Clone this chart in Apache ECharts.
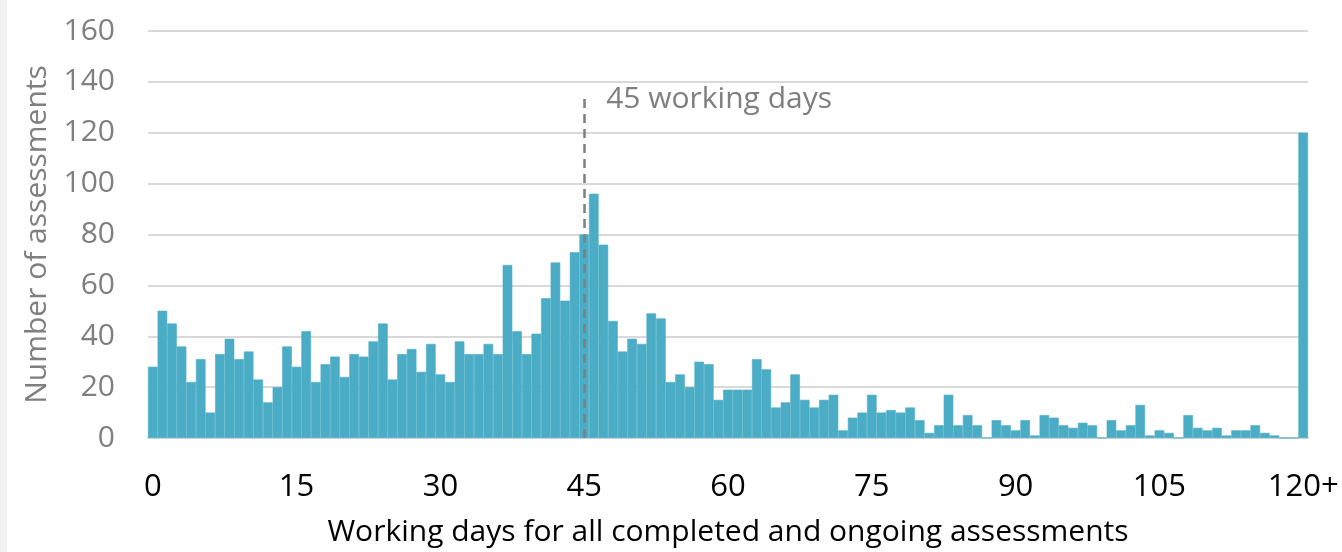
<!DOCTYPE html>
<html>
<head>
<meta charset="utf-8">
<script src="https://cdn.jsdelivr.net/npm/echarts@6/dist/echarts.min.js"></script>
<style>
html,body{margin:0;padding:0;background:#fff;}
#chart{width:1342px;height:552px;}
</style>
</head>
<body>
<div id="chart"></div>
<script>
// Data
const lastLabel = '120+';
const categories = [];
for (let d = 0; d < 120; d++) categories.push(String(d));
categories.push(lastLabel);

const counts = [
  28,50,45,36,22,31,10,33,39,31,
  34,23,14,20,36,28,42,22,29,32,
  24,33,32,38,45,23,33,35,26,37,
  25,22,38,33,33,37,33,68,42,33,
  41,55,69,54,73,80,96,76,46,34,
  39,37,49,47,22,25,20,30,29,15,
  19,19,19,31,27,12,14,25,15,12,
  15,17,3,8,10,17,10,11,10,12,
  7,2,5,17,5,9,5,0,7,5,
  3,7,1,9,8,5,4,6,5,0,
  7,3,5,13,1,3,2,0,9,4,
  3,4,1,3,3,5,2,1,0,0,
  120
];

const yTicks = [0,20,40,60,80,100,120,140,160];
const refDay = '45';
const refLineTop = 134;
const refLabelValue = 133;
const refLabel = '45 working days';
const xTitle = 'Working days for all completed and ongoing assessments';
const yTitle = 'Number of assessments';

const FONT = '"Open Sans", "Noto Sans", sans-serif';
const chart = echarts.init(document.getElementById('chart'));
chart.setOption({
  animation: false,
  backgroundColor: '#ffffff',
  graphic: [{
    type: 'rect', left: 0, top: 0, shape: {width: 7, height: 552},
    style: {fill: '#f2f2f2'}, silent: true, z: -1
  }],
  grid: {left: 148, right: 34, top: 31, bottom: 111, containLabel: false},
  xAxis: {
    type: 'category',
    data: categories,
    boundaryGap: true,
    axisLine: {show: true, lineStyle: {color: '#d9d9d9', width: 2}},
    axisTick: {show: false},
    axisLabel: {
      interval: 14, color: '#000000', fontSize: 31, lineHeight: 31, fontFamily: FONT, margin: 34
    },
    name: xTitle,
    nameLocation: 'middle',
    nameGap: 79,
    nameTextStyle: {color: '#000000', fontSize: 30, lineHeight: 30, fontFamily: FONT}
  },
  yAxis: {
    type: 'value',
    min: yTicks[0],
    max: yTicks[yTicks.length - 1],
    interval: yTicks[1] - yTicks[0],
    axisLine: {show: false},
    axisTick: {show: false},
    splitLine: {lineStyle: {color: '#d9d9d9', width: 2}},
    axisLabel: {color: '#7f7f7f', fontSize: 30, fontFamily: FONT, margin: 33},
    name: yTitle,
    nameLocation: 'middle',
    nameGap: 93,
    nameTextStyle: {color: '#7f7f7f', fontSize: 30, lineHeight: 30, fontFamily: FONT}
  },
  series: [{
    type: 'bar',
    data: counts,
    barCategoryGap: '0%',
    itemStyle: {color: '#4bacc6', borderColor: '#4bacc6', borderWidth: 0.6},
    markLine: {
      silent: true,
      symbol: ['none', 'none'],
      lineStyle: {color: '#7f7f7f', type: [9, 6], width: 2.5},
      label: {show: false},
      data: [[{coord: [refDay, 0]}, {coord: [refDay, refLineTop]}]]
    },
    markPoint: {
      silent: true,
      symbol: 'circle',
      symbolSize: 0,
      data: [{coord: [refDay, refLabelValue]}],
      label: {
        show: true, position: 'right', distance: 22,
        formatter: refLabel, color: '#7f7f7f', fontSize: 30, fontFamily: FONT
      }
    }
  }]
});
</script>
</body>
</html>
